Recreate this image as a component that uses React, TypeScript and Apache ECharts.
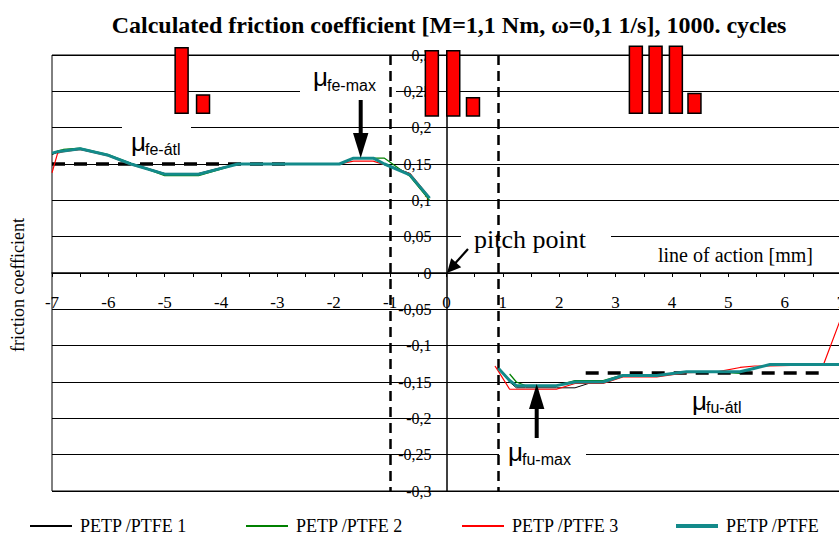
import React, { useEffect, useRef } from "react";
import * as echarts from "echarts";

// ---- data ----
const seriesNames = ["PETP /PTFE 1", "PETP /PTFE 2", "PETP /PTFE 3", "PETP /PTFE"];
const seriesColors = ["#000000", "#008000", "#ff0000", "#138a8a"];
const seriesWidths = [1, 1.2, 1.2, 3];

// before pitch point (left segment)
const xLeft = [-7, -6.9, -6.8, -6.5, -6, -5.6, -5, -4.4, -4, -3.7, -3, -2, -1.9, -1.65, -1.3, -1.1, -0.65, -0.3];
const petp1Left = [0.163, 0.166, 0.168, 0.17, 0.162, 0.151, 0.137, 0.137, 0.145, 0.15, 0.15, 0.15, 0.15, 0.158, 0.158, 0.15, 0.137, 0.103];
const petp2Left = [0.164, 0.168, 0.17, 0.172, 0.163, 0.151, 0.134, 0.134, 0.143, 0.15, 0.15, 0.15, 0.15, 0.158, 0.158, 0.158, 0.133, 0.1];
const petp3Left = [0.138, 0.165, 0.167, 0.17, 0.161, 0.149, 0.136, 0.136, 0.144, 0.15, 0.15, 0.15, 0.15, 0.154, 0.154, 0.149, 0.137, 0.104];
const petpAvgLeft = [0.165, 0.167, 0.168, 0.171, 0.162, 0.15, 0.136, 0.136, 0.144, 0.15, 0.15, 0.15, 0.15, 0.158, 0.158, 0.15, 0.135, 0.103];

// after pitch point (right segment)
const xRight = [0.86, 0.92, 1.12, 1.24, 1.4, 1.95, 2.28, 2.6, 2.78, 3.13, 3.73, 4.26, 4.8, 5.21, 5.47, 5.74, 6.69, 7];
const petp1Right = [null, -0.13, -0.15, -0.158, -0.158, -0.158, -0.158, -0.15, -0.15, -0.141, -0.141, -0.136, -0.136, -0.136, -0.131, -0.126, -0.126, -0.126];
const petp2Right = [null, null, -0.139, -0.15, -0.155, -0.155, -0.148, -0.148, -0.148, -0.14, -0.14, -0.136, -0.136, -0.138, -0.131, -0.126, -0.126, -0.126];
const petp3Right = [-0.128, -0.135, -0.16, -0.16, -0.16, -0.16, -0.152, -0.152, -0.152, -0.143, -0.143, -0.137, -0.136, -0.13, -0.128, -0.128, -0.126, -0.062];
const petpAvgRight = [null, -0.131, -0.148, -0.155, -0.155, -0.155, -0.15, -0.15, -0.15, -0.141, -0.141, -0.136, -0.136, -0.136, -0.131, -0.126, -0.126, -0.126];

// mean friction lines
const meanLeft = { value: 0.15, from: -7, to: -2.84 };
const meanRight = { value: -0.1373, from: 2.47, to: 6.75 };
// single / double contact boundaries
const contactLines = [-1.0, 0.92];

// contact illustration bars
const barX = [-4.7, -4.32, -0.26, 0.12, 0.47, 3.36, 3.71, 4.07, 4.4];
const barBottom = [0.22, 0.22, 0.216, 0.216, 0.216, 0.22, 0.22, 0.22, 0.22];
const barTop = [0.31, 0.245, 0.306, 0.306, 0.241, 0.312, 0.312, 0.312, 0.247];
const barWidth = 0.23;

const SERIF = "Liberation Serif";
const SANS = "Liberation Sans";

const GRID_LEFT = 52;
const GRID_TOP = 55;
const GRID_W = 789;
const GRID_H = 436;
const X_MIN = -7;
const X_MAX = 7;
const Y_MIN = -0.3;
const Y_MAX = 0.3;

function buildData(left: (number | null)[], right: (number | null)[]) {
  const out: any[] = [];
  xLeft.forEach((x, i) => {
    if (left[i] !== null) out.push([x, left[i]]);
  });
  out.push(["-", "-"]);
  xRight.forEach((x, i) => {
    if (right[i] !== null) out.push([x, right[i]]);
  });
  return out;
}

function fmtY(v: number) {
  const s = String(Number(v.toFixed(2)));
  return "{t|" + s.replace(".", ",") + "}";
}

function fmtX(v: number) {
  return Math.abs(v - Math.round(v)) < 1e-6 ? "{t|" + String(Math.round(v)) + "}" : "";
}

function muLabel(x: number, yMu: number, sub: string, subX: number, ySub: number) {
  return [
    {
      type: "text",
      x,
      y: yMu,
      z: 10,
      style: { text: "μ", fontSize: 26, fontFamily: SANS, fill: "#000", align: "left", verticalAlign: "middle" },
    },
    {
      type: "text",
      x: subX,
      y: ySub,
      z: 10,
      style: { text: sub, fontSize: 16, fontFamily: SANS, fill: "#000", align: "left", verticalAlign: "middle" },
    },
  ];
}

function whiteBox(x: number, y: number, w: number, h: number) {
  return { type: "rect", z: 1, shape: { x, y, width: w, height: h }, style: { fill: "#fff" } };
}

export default function App() {
  const ref = useRef<HTMLDivElement>(null);

  useEffect(() => {
    if (!ref.current) return;
    const chart = echarts.init(ref.current, null, { renderer: "svg" });

    const lefts = [petp1Left, petp2Left, petp3Left, petpAvgLeft];
    const rights = [petp1Right, petp2Right, petp3Right, petpAvgRight];

    const lineSeries: any[] = seriesNames.map((name, i) => ({
      name,
      type: "line",
      data: buildData(lefts[i], rights[i]),
      showSymbol: false,
      symbol: "none",
      color: seriesColors[i],
      lineStyle: { color: seriesColors[i], width: seriesWidths[i] },
      connectNulls: false,
      z: 3 + i,
    }));

    const dashMean = { color: "#000", width: 3.5, type: [13, 9] };
    const dashV = { color: "#000", width: 2.5, type: [10, 6] };
    lineSeries[3].markLine = {
      silent: true,
      symbol: ["none", "none"],
      label: { show: false },
      emphasis: { disabled: true },
      data: [
        [
          { coord: [meanLeft.from, meanLeft.value], lineStyle: dashMean },
          { coord: [meanLeft.to, meanLeft.value] },
        ],
        [
          { coord: [meanRight.from, meanRight.value], lineStyle: dashMean },
          { coord: [meanRight.to, meanRight.value] },
        ],
        ...contactLines.map((x) => [
          { coord: [x, Y_MAX], lineStyle: dashV },
          { coord: [x, Y_MIN] },
        ]),
      ],
    };

    const barSeries = {
      type: "custom",
      name: "contact",
      clip: false,
      silent: true,
      z: 8,
      data: barX.map((x, i) => [x, barBottom[i], barTop[i]]),
      encode: { x: 0, y: [1, 2] },
      renderItem: (params: any, api: any) => {
        const x = api.value(0);
        const b = api.value(1);
        const t = api.value(2);
        const pTop = api.coord([x, t]);
        const pBot = api.coord([x, b]);
        const w = api.size([barWidth, 0])[0];
        return {
          type: "rect",
          shape: { x: pTop[0] - w / 2, y: pTop[1], width: w, height: pBot[1] - pTop[1] },
          style: { fill: "#ff0000", stroke: "#000", lineWidth: 1.5 },
        };
      },
    };

    const legendLefts = [30, 246, 462, 676];
    const legends = seriesNames.map((name, i) => ({
      data: [name],
      left: legendLefts[i],
      top: 517,
      padding: 0,
      icon: "rect",
      itemWidth: 42,
      itemHeight: i === 3 ? 4 : 2,
      itemGap: 0,
      selectedMode: false,
      textStyle: { fontFamily: SERIF, fontSize: 18, color: "#000", padding: [0, 0, 0, 3] },
    }));

    const arrowHead = (pts: number[][]) => ({
      type: "polygon",
      z: 10,
      shape: { points: pts },
      style: { fill: "#000" },
    });

    const graphic: any[] = [
      {
        type: "text",
        x: 449,
        y: 25,
        z: 10,
        style: {
          text: "Calculated friction coefficient [M=1,1 Nm, ω=0,1 1/s], 1000. cycles",
          fontFamily: SERIF,
          fontWeight: "bold",
          fontSize: 24,
          fill: "#000",
          align: "center",
          verticalAlign: "middle",
        },
      },
      {
        type: "text",
        x: 18,
        y: 285,
        rotation: Math.PI / 2,
        z: 10,
        style: {
          text: "friction coefficient",
          fontFamily: SERIF,
          fontSize: 18,
          fill: "#000",
          align: "center",
          verticalAlign: "middle",
        },
      },
      // white label boxes
      whiteBox(300, 66, 96, 30),
      whiteBox(122, 121, 69, 38),
      whiteBox(461, 226, 150, 30),
      whiteBox(499, 443, 87, 30),
      // labels
      ...muLabel(313, 77, "fe-max", 327, 85),
      ...muLabel(131, 142, "fe-átl", 145, 149),
      ...muLabel(508, 452, "fu-max", 522, 459),
      ...muLabel(692, 401, "fu-átl", 706, 407),
      {
        type: "text",
        x: 474,
        y: 239,
        z: 10,
        style: { text: "pitch point", fontFamily: SERIF, fontSize: 26, fill: "#000", align: "left", verticalAlign: "middle" },
      },
      {
        type: "text",
        x: 658,
        y: 255,
        z: 10,
        style: { text: "line of action [mm]", fontFamily: SERIF, fontSize: 20, fill: "#000", align: "left", verticalAlign: "middle" },
      },
      // arrows
      { type: "line", z: 10, shape: { x1: 360.7, y1: 100, x2: 360.7, y2: 136 }, style: { stroke: "#000", lineWidth: 4 } },
      arrowHead([[353, 133], [368.4, 133], [360.7, 158]]),
      { type: "line", z: 10, shape: { x1: 536.7, y1: 438, x2: 536.7, y2: 406 }, style: { stroke: "#000", lineWidth: 4 } },
      arrowHead([[529, 409], [544.4, 409], [536.7, 384]]),
      { type: "line", z: 10, shape: { x1: 468, y1: 249, x2: 455, y2: 263.5 }, style: { stroke: "#000", lineWidth: 2.2 } },
      arrowHead([[461.2, 267.2], [451.2, 258.2], [447, 273]]),
    ];

    // axes cross at the origin: offsets from the grid's default edges
    const xAxisOffset = -(GRID_H * (0 - Y_MIN)) / (Y_MAX - Y_MIN);
    const yAxisOffset = -(GRID_W * (0 - X_MIN)) / (X_MAX - X_MIN);

    chart.setOption({
      animation: false,
      textStyle: { fontFamily: SERIF },
      grid: {
        left: GRID_LEFT,
        top: GRID_TOP,
        width: GRID_W,
        height: GRID_H,
        show: true,
        borderColor: "#000",
        borderWidth: 1,
        backgroundColor: "transparent",
        containLabel: false,
        outerBoundsMode: "none",
      },
      legend: legends,
      xAxis: {
        type: "value",
        min: X_MIN,
        max: X_MAX,
        interval: 0.5,
        position: "bottom",
        offset: xAxisOffset,
        axisLine: { onZero: false, lineStyle: { color: "#000", width: 1.5 } },
        axisTick: { show: true, inside: false, length: 4, lineStyle: { color: "#000", width: 1 } },
        axisLabel: {
          margin: 21,
          fontFamily: SERIF,
          fontSize: 17,
          color: "#000",
          showMinLabel: true,
          showMaxLabel: true,
          hideOverlap: false,
          formatter: fmtX,
          rich: { t: { fontFamily: SERIF, fontSize: 17, color: "#000" } },
        },
        splitLine: { show: false },
      },
      yAxis: {
        type: "value",
        min: Y_MIN,
        max: Y_MAX,
        interval: 0.05,
        position: "left",
        offset: yAxisOffset,
        axisLine: { show: true, onZero: false, lineStyle: { color: "#000", width: 1.5 } },
        axisTick: { show: true, inside: false, length: 7, lineStyle: { color: "#000", width: 1 } },
        axisLabel: {
          margin: 15,
          fontFamily: SERIF,
          fontSize: 16,
          color: "#000",
          formatter: fmtY,
          hideOverlap: false,
          rich: { t: { fontFamily: SERIF, fontSize: 16, color: "#000" } },
        },
        splitLine: { show: true, lineStyle: { color: "#000", width: 1 } },
      },
      graphic,
      series: [...lineSeries, barSeries],
    });

    return () => {
      chart.dispose();
    };
  }, []);

  return (
    <div
      ref={ref}
      style={{ position: "absolute", left: 0, top: 0, width: 839, height: 541, background: "#fff" }}
    />
  );
}
